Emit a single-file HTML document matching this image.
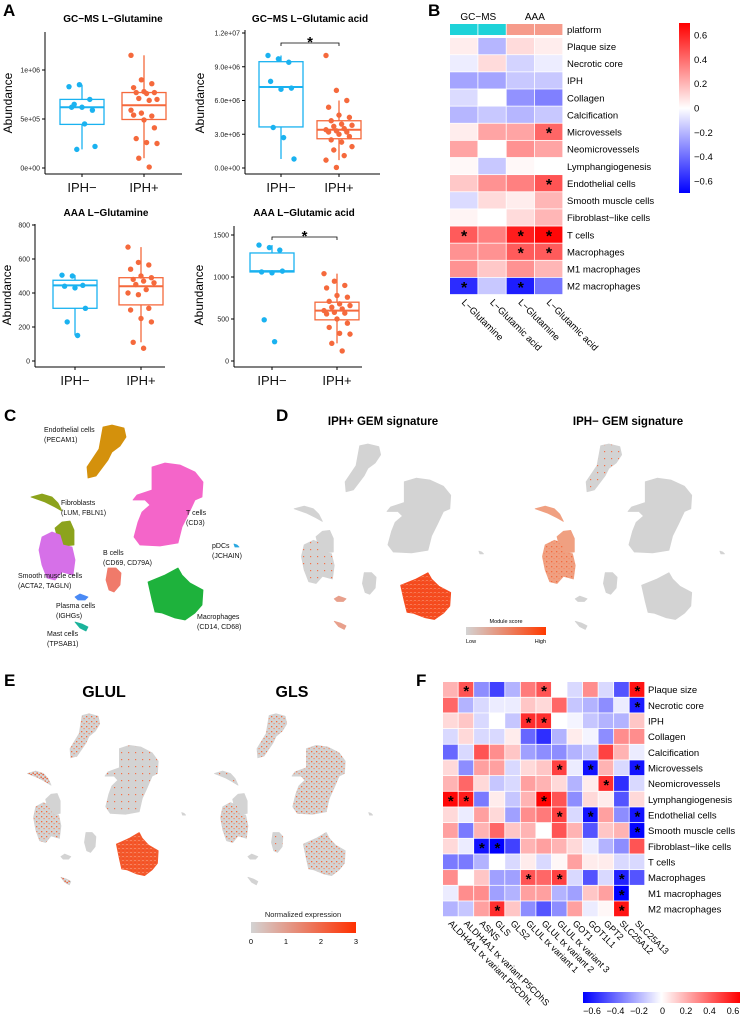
<!DOCTYPE html>
<html><head><meta charset="utf-8">
<style>
html,body{margin:0;padding:0;background:#fff;}
svg{display:block;font-family:"Liberation Sans",Arial,sans-serif;}
</style></head>
<body>
<svg id="fig" width="744" height="1018" viewBox="0 0 744 1018" xmlns="http://www.w3.org/2000/svg">
<defs>
<pattern id="spkA" width="5" height="5" patternUnits="userSpaceOnUse"><rect x="1" y="1" width="1.3" height="1.3" fill="#f36a3e"/><rect x="3.5" y="3" width="1.2" height="1.2" fill="#f58a62"/></pattern>
<pattern id="spkB" width="4" height="4" patternUnits="userSpaceOnUse"><rect x="0.5" y="0.5" width="1.4" height="1.4" fill="#f0602e"/><rect x="2.5" y="2" width="1.3" height="1.3" fill="#f34a20"/><rect x="2.5" y="0" width="1" height="1" fill="#fff" opacity="0.5"/></pattern>
<pattern id="spkC" width="7" height="7" patternUnits="userSpaceOnUse"><rect x="2" y="3" width="1.2" height="1.2" fill="#f37048"/></pattern>
<linearGradient id="gradB" x1="0" y1="1" x2="0" y2="0"><stop offset="0" stop-color="#0000ff"/><stop offset="0.5" stop-color="#ffffff"/><stop offset="1" stop-color="#ff0000"/></linearGradient>
<linearGradient id="gradF" x1="0" y1="0" x2="1" y2="0"><stop offset="0" stop-color="#0000ff"/><stop offset="0.5" stop-color="#ffffff"/><stop offset="1" stop-color="#ff0000"/></linearGradient>
<linearGradient id="gradMod" x1="0" y1="0" x2="1" y2="0"><stop offset="0" stop-color="#d3d3d3"/><stop offset="1" stop-color="#ff3a00"/></linearGradient>
<linearGradient id="gradExp" x1="0" y1="0" x2="1" y2="0"><stop offset="0" stop-color="#d3d3d3"/><stop offset="1" stop-color="#ff3000"/></linearGradient>
</defs>
<g id="root"></g>
</svg>
<script>
// ---------- Panel A data ----------
const a1Neg=[8.3e5,8.5e5,7.0e5,6.2e5,6.2e5,5.9e5,6.5e5,4.5e5,2.2e5,1.9e5];
const a1Pos=[11.5e5,9.0e5,8.6e5,8.2e5,7.8e5,7.7e5,7.7e5,7.6e5,7.0e5,7.1e5,6.9e5,5.9e5,5.6e5,5.3e5,5.4e5,4.9e5,4.1e5,3.0e5,2.6e5,2.5e5,1.0e5,0.1e5];
const a1NegBox=[1.9e5,4.45e5,6.2e5,7.0e5,8.5e5];
const a1PosBox=[1.0e5,4.95e5,6.4e5,7.7e5,11.5e5];
const a2Neg=[10.0e6,9.7e6,9.4e6,7.7e6,7.0e6,7.1e6,3.6e6,2.7e6,0.8e6];
const a2Pos=[10.0e6,6.9e6,6.0e6,5.4e6,4.7e6,4.5e6,4.2e6,3.9e6,3.8e6,3.7e6,3.5e6,3.4e6,3.3e6,3.2e6,3.2e6,3.0e6,2.8e6,2.5e6,2.3e6,1.9e6,1.6e6,1.1e6,0.7e6,0.05e6];
const a2NegBox=[0.8e6,3.65e6,7.2e6,9.45e6,10.0e6];
const a2PosBox=[0.7e6,2.6e6,3.4e6,4.2e6,6.0e6];
const a3Neg=[505,500,445,440,430,310,230,150];
const a3Pos=[670,580,565,540,500,490,480,470,460,450,420,400,390,310,300,250,230,110,75];
const a3NegBox=[150,310,445,475,505];
const a3PosBox=[110,330,440,490,670];
const a4Neg=[1380,1350,1320,1060,1050,1070,490,230];
const a4Pos=[1040,950,900,870,780,760,710,680,660,640,620,600,580,570,560,500,450,400,330,320,210,120];
const a4NegBox=[1060,1060,1070,1286,1380];
const a4PosBox=[210,490,600,700,1040];
const a1Ticks=[0,5e5,1e6], a1TickLabels=["0e+00","5e+05","1e+06"];
const a2Ticks=[0,3e6,6e6,9e6,1.2e7], a2TickLabels=["0.0e+00","3.0e+06","6.0e+06","9.0e+06","1.2e+07"];
const a3Ticks=[0,200,400,600,800], a3TickLabels=["0","200","400","600","800"];
const a4Ticks=[0,500,1000,1500], a4TickLabels=["0","500","1000","1500"];
const groupLabels=["IPH\u2212","IPH+"];

// ---------- Panel B data ----------
const bRows=["Plaque size","Necrotic core","IPH","Collagen","Calcification","Microvessels","Neomicrovessels","Lymphangiogenesis","Endothelial cells","Smooth muscle cells","Fibroblast\u2212like cells","T cells","Macrophages","M1 macrophages","M2 macrophages"];
const bCols=["L\u2212Glutamine","L\u2212Glutamic acid","L\u2212Glutamine","L\u2212Glutamic acid"];
const bVals=[
[0.05,-0.2,0.1,0.05],[-0.05,0.1,-0.12,-0.05],[-0.25,-0.25,-0.15,-0.15],[-0.1,0,-0.3,-0.35],[-0.2,-0.15,-0.2,-0.15],
[0.05,0.25,0.25,0.42],[0.25,0,0.3,0.25],[0.02,-0.15,0.02,0],[0.15,0.3,0.35,0.47],[-0.1,0.1,0.05,0.2],
[0.03,0,0.1,0.2],[0.45,0.35,0.62,0.68],[0.3,0.3,0.45,0.45],[0.3,0.15,0.3,0.2],[-0.58,-0.15,-0.62,-0.38]];
const bSig=[[0,0,0,0],[0,0,0,0],[0,0,0,0],[0,0,0,0],[0,0,0,0],[0,0,0,1],[0,0,0,0],[0,0,0,0],[0,0,0,1],[0,0,0,0],[0,0,0,0],[1,0,1,1],[0,0,1,1],[0,0,0,0],[1,0,1,0]];
const bTicks=[0.6,0.4,0.2,0,-0.2,-0.4,-0.6], bTickLabels=["0.6","0.4","0.2","0","\u22120.2","\u22120.4","\u22120.6"];

// ---------- Panel F data ----------
const fRows=["Plaque size","Necrotic core","IPH","Collagen","Calcification","Microvessels","Neomicrovessels","Lymphangiogenesis","Endothelial cells","Smooth muscle cells","Fibroblast\u2212like cells","T cells","Macrophages","M1 macrophages","M2 macrophages"];
const fCols=["ALDH4A1 tx variant P5CDhL","ALDH4A1 tx variant P5CDhS","ASNS","GLS","GLS2","GLUL tx variant 1","GLUL tx variant 2","GLUL tx variant 3","GOT1","GOT1L1","GPT2","SLC25A12","SLC25A13"];
const fVals=[
[0.2,0.45,-0.3,-0.5,-0.2,0.35,0.45,0,-0.1,0.3,-0.1,-0.45,0.62],
[0.4,-0.2,-0.1,-0.05,-0.05,0.15,0.1,0.4,-0.15,-0.2,-0.3,-0.05,-0.6],
[0.1,0.15,-0.1,0,-0.15,0.55,0.55,0,-0.03,-0.15,-0.2,-0.2,0.15],
[-0.1,0.1,-0.1,-0.1,0.05,-0.4,-0.55,-0.2,0.05,-0.03,-0.3,0.3,0.3],
[-0.4,-0.1,0.45,0.3,0.15,-0.25,-0.3,-0.3,-0.2,-0.15,0.5,0.2,-0.05],
[0.1,-0.3,0.25,0.25,-0.1,0.1,0.15,0.5,-0.05,-0.62,0.2,-0.1,-0.62],
[0.2,0.4,0.1,-0.15,-0.1,0.25,0.2,0.1,-0.2,0.05,0.55,-0.55,-0.1],
[0.65,0.6,-0.35,0.05,-0.15,0.2,0.66,0.45,-0.3,0.1,0.05,-0.45,0.1],
[0.1,-0.05,0.25,0.1,-0.25,0.3,0.35,0.5,-0.1,-0.62,0.25,-0.3,-0.62],
[0.25,-0.35,0.2,0.4,0.15,0.2,0,0.45,0.2,-0.45,0.15,0.2,-0.66],
[0.1,-0.05,-0.62,-0.7,-0.5,0.2,0.25,0.2,0.1,-0.05,-0.2,-0.3,0.45],
[-0.35,-0.35,-0.2,0,-0.1,0.05,-0.1,0.02,0.25,0.05,0.05,-0.1,-0.1],
[0.3,0,0.15,-0.25,-0.25,0.45,0.4,0.5,-0.1,-0.45,-0.1,-0.58,-0.45],
[-0.05,0.3,0.3,-0.25,-0.2,0.25,0.25,-0.2,-0.25,0.15,0.25,-0.7,0],
[-0.2,-0.15,0.25,0.55,0.15,-0.3,-0.45,-0.3,0.25,-0.05,0.02,0.62,0]];
const fSig=[
[0,1,0,0,0,0,1,0,0,0,0,0,1],[0,0,0,0,0,0,0,0,0,0,0,0,1],[0,0,0,0,0,1,1,0,0,0,0,0,0],[0,0,0,0,0,0,0,0,0,0,0,0,0],[0,0,0,0,0,0,0,0,0,0,0,0,0],
[0,0,0,0,0,0,0,1,0,1,0,0,1],[0,0,0,0,0,0,0,0,0,0,1,0,0],[1,1,0,0,0,0,1,0,0,0,0,0,0],[0,0,0,0,0,0,0,1,0,1,0,0,1],[0,0,0,0,0,0,0,0,0,0,0,0,1],
[0,0,1,1,0,0,0,0,0,0,0,0,0],[0,0,0,0,0,0,0,0,0,0,0,0,0],[0,0,0,0,0,1,0,1,0,0,0,1,0],[0,0,0,0,0,0,0,0,0,0,0,1,0],[0,0,0,1,0,0,0,0,0,0,0,1,0]];
const fTicks=[-0.6,-0.4,-0.2,0,0.2,0.4,0.6], fTickLabels=["\u22120.6","\u22120.4","\u22120.2","0","0.2","0.4","0.6"];
const expTicks=[0,1,2,3], expTickLabels=["0","1","2","3"];

const NS="http://www.w3.org/2000/svg";
const root=document.getElementById('root');
function el(tag,attrs,parent){const e=document.createElementNS(NS,tag);for(const k in attrs)e.setAttribute(k,attrs[k]);(parent||root).appendChild(e);return e;}
function txt(s,attrs,parent){const e=el('text',attrs,parent);e.textContent=s;return e;}

// panel letters
[["A",3,16],["B",428,16],["C",4,421],["D",276,421],["E",4,686],["F",416,686]].forEach(p=>{
 const t=txt(p[0],{x:p[1],y:p[2],'font-size':17,'font-weight':'bold'});
 
 
});

// ---------- Boxplots ----------
const BLUE="#1ab2f0", ORG="#f5693c";
function boxPanel(cfg,negPts,posPts,negBox,posBox,ticks,tickLabels){
 const g=el('g',{});
 
 
 const yS=v=>cfg.y0-(v-0)*cfg.k;
 const t=txt(cfg.title,{x:cfg.tx,y:cfg.ty,'font-size':10,'font-weight':'bold','text-anchor':'middle'},g);
 
 
 el('line',{x1:cfg.ax,y1:cfg.top,x2:cfg.ax,y2:cfg.base,stroke:'#000','stroke-width':1},g);
 el('line',{x1:cfg.ax,y1:cfg.base,x2:cfg.right,y2:cfg.base,stroke:'#000','stroke-width':1},g);
 ticks.forEach((v,i)=>{
  el('line',{x1:cfg.ax-3,y1:yS(v),x2:cfg.ax,y2:yS(v),stroke:'#000'},g);
  const tl=txt(tickLabels[i],{x:cfg.ax-5,y:yS(v)+2.5,'font-size':7,'text-anchor':'end',fill:'#222'},g);
  
  
 });
 const yt=txt("Abundance",{x:0,y:0,'font-size':12,'text-anchor':'middle',transform:`translate(${cfg.yl},${cfg.ylc}) rotate(-90)`},g);
 
 
 [[cfg.g1,negBox,negPts,BLUE],[cfg.g2,posBox,posPts,ORG]].forEach((grp,gi)=>{
  const cx=grp[0],b=grp[1],col=grp[3];
  el('line',{x1:cfg.ax+0,y1:0,x2:0,y2:0},g).remove();
  el('line',{x1:cx,y1:cfg.base,x2:cx,y2:cfg.base+3,stroke:'#000'},g);
  const xl=txt(groupLabels[gi],{x:cx,y:cfg.base+18,'font-size':13,'text-anchor':'middle',fill:'#111'},g);
  
  
  el('line',{x1:cx,y1:yS(b[0]),x2:cx,y2:yS(b[1]),stroke:col,'stroke-width':1.3},g);
  el('line',{x1:cx,y1:yS(b[3]),x2:cx,y2:yS(b[4]),stroke:col,'stroke-width':1.3},g);
  const r=el('rect',{x:cx-22,y:yS(b[3]),width:44,height:yS(b[1])-yS(b[3]),fill:'#fff',stroke:col,'stroke-width':1.3},g);
  
  
  el('line',{x1:cx-22,y1:yS(b[2]),x2:cx+22,y2:yS(b[2]),stroke:col,'stroke-width':2},g);
  grp[2].forEach((v,i)=>{
   const jx=((i*37)%11-5)*2.6;
   const c=el('circle',{cx:cx+jx,cy:yS(v),r:2.7,fill:col},g);
   
   
  });
 });
 if(cfg.sig){
  const by=cfg.sig;
  el('path',{d:`M${cfg.g1},${by+3}V${by}H${cfg.g2}V${by+3}`,fill:'none',stroke:'#000','stroke-width':0.8},g);
  const s=txt("*",{x:(cfg.g1+cfg.g2)/2,y:by+4,'font-size':15,'font-weight':'bold','text-anchor':'middle'},g);
  
  
 }
}
boxPanel({name:'boxplot-gcms-glutamine',title:'GC\u2212MS L\u2212Glutamine',tx:113,ty:22,ax:45,top:32,base:174,right:182,y0:168,k:98/1e6,g1:82,g2:144,yl:12,ylc:103},a1Neg,a1Pos,a1NegBox,a1PosBox,a1Ticks,a1TickLabels);
boxPanel({name:'boxplot-gcms-glutamic-acid',title:'GC\u2212MS L\u2212Glutamic acid',tx:310,ty:22,ax:245,top:30,base:174,right:380,y0:168,k:135/1.2e7,g1:281,g2:339,yl:204,ylc:103,sig:43},a2Neg,a2Pos,a2NegBox,a2PosBox,a2Ticks,a2TickLabels);
boxPanel({name:'boxplot-aaa-glutamine',title:'AAA L\u2212Glutamine',tx:106,ty:216,ax:35,top:224,base:367,right:165,y0:361,k:34/200,g1:75,g2:141,yl:11,ylc:295},a3Neg,a3Pos,a3NegBox,a3PosBox,a3Ticks,a3TickLabels);
boxPanel({name:'boxplot-aaa-glutamic-acid',title:'AAA L\u2212Glutamic acid',tx:304,ty:216,ax:234,top:226,base:367,right:362,y0:361,k:42/500,g1:272,g2:337,yl:203,ylc:295,sig:237},a4Neg,a4Pos,a4NegBox,a4PosBox,a4Ticks,a4TickLabels);

// ---------- Heatmap color ----------
function hcol(v,m){let t=Math.max(-1,Math.min(1,v/m));
 if(t>=0){const c=Math.round(255*(1-t));return `rgb(255,${c},${c})`;}
 const c=Math.round(255*(1+t));return `rgb(${c},${c},255)`;}

// ---------- Panel B ----------
(function(){
 const g=el('g',{});
 
 
 const x0=450,cw=28.3,y0=38,rh=17.13;
 const platCols=["#1ed3d9","#1ed3d9","#f69b8b","#f69b8b"];
 platCols.forEach((c,j)=>{const r=el('rect',{x:x0+j*cw,y:24,width:cw-0.8,height:11,fill:c},g);
  
  });
 let t=txt('platform',{x:567,y:33,'font-size':9.5},g);
 
 
 t=txt('GC\u2212MS',{x:x0+cw,y:20,'font-size':10,'text-anchor':'middle'},g);
 
 
 t=txt('AAA',{x:x0+3*cw,y:20,'font-size':10,'text-anchor':'middle'},g);
 
 
 bRows.forEach((rn,i)=>{
  bCols.forEach((cn,j)=>{
   const r=el('rect',{x:x0+j*cw,y:y0+i*rh,width:cw-0.8,height:rh-0.8,fill:hcol(bVals[i][j],0.7)},g);
   
   
   if(bSig[i][j]){const s=txt('*',{x:x0+j*cw+cw/2,y:y0+i*rh+rh/2+6.5,'font-size':16,'font-weight':'bold','text-anchor':'middle'},g);
    
    }
  });
  const l=txt(rn,{x:567,y:y0+i*rh+rh/2+3.3,'font-size':9.5},g);
  
  
 });
 bCols.forEach((cn,j)=>{
  const l=txt(cn,{x:0,y:0,'font-size':9.5,transform:`translate(${x0+j*cw+cw/2-3},${y0+15*rh+8}) rotate(45)`},g);
  
  
 });
 const cb=el('rect',{x:679,y:23,width:11,height:170,fill:'url(#gradB)'},g);
 
 
 bTicks.forEach((v,i)=>{const y=108-v*(73/0.6);
  const l=txt(bTickLabels[i],{x:694,y:y+3.5,'font-size':9.5},g);
  
  });
})();

// ---------- Panel F ----------
(function(){
 const g=el('g',{});
 
 
 const x0=443,cw=15.55,y0=682,rh=15.67;
 fRows.forEach((rn,i)=>{
  fCols.forEach((cn,j)=>{
   const r=el('rect',{x:x0+j*cw,y:y0+i*rh,width:cw-0.8,height:rh-0.8,fill:hcol(fVals[i][j],0.67)},g);
   
   
   if(fSig[i][j]){const s=txt('*',{x:x0+j*cw+cw/2,y:y0+i*rh+rh/2+6.3,'font-size':15,'font-weight':'bold','text-anchor':'middle'},g);
    
    }
  });
  const l=txt(rn,{x:648,y:y0+i*rh+rh/2+3.3,'font-size':9.5},g);
  
  
 });
 fCols.forEach((cn,j)=>{
  const l=txt(cn,{x:0,y:0,'font-size':9,transform:`translate(${x0+j*cw+cw/2-3},${y0+15*rh+7}) rotate(45)`},g);
  
  
 });
 const cb=el('rect',{x:583,y:992,width:157,height:11,fill:'url(#gradF)'},g);
 
 
 fTicks.forEach((v,i)=>{const x=662.5+v*(70.5/0.6);
  const l=txt(fTickLabels[i],{x:x,y:1014,'font-size':9,'text-anchor':'middle'},g);
  
  });
})();

// ---------- UMAP shapes (panel C reference frame) ----------
const clusters={
 endo:[[103,427],[112,425],[124,428],[126,437],[120,446],[112,452],[108,460],[102,468],[96,476],[88,478],[87,467],[93,458],[99,449],[101,438]],
 fibTop:[[31,497],[42,494],[52,497],[58,503],[62,511],[55,507],[45,502]],
 fibLow:[[55,528],[62,522],[70,521],[74,530],[74,545],[65,546],[58,540]],
 smc:[[42,537],[52,532],[60,535],[63,545],[72,547],[75,560],[73,575],[62,572],[55,580],[47,578],[42,565],[39,550]],
 tcell:[[152,467],[165,463],[180,465],[195,472],[203,482],[202,497],[195,500],[188,515],[182,527],[178,543],[160,546],[140,545],[134,537],[138,522],[142,512],[150,505],[145,500],[133,500],[137,495],[152,490]],
 bcell:[[108,568],[116,568],[121,573],[120,585],[114,592],[109,590],[106,580]],
 macro:[[148,582],[165,575],[178,568],[182,575],[190,583],[203,590],[202,605],[195,613],[185,620],[175,618],[162,613],[155,612],[152,600]],
 plasma:[[75,597],[80,594],[88,597],[85,600],[78,600]],
 mast:[[75,622],[82,624],[88,627],[86,631],[80,628]],
 pdc:[[234,544],[237,545],[239,547],[235,547]]
};
function umap(name,tf,fills,over){
 const g=el('g',{});
 
 
 for(const k in clusters){
  const pts=clusters[k].map(p=>[tf.ox+(p[0]-tf.bx)*tf.sx,tf.oy+(p[1]-tf.by)*tf.sy].join(',')).join(' ');
  const p=el('polygon',{points:pts,fill:fills[k]||fills.def,stroke:fills[k]||fills.def,'stroke-width':0.8,'stroke-linejoin':'round'},g);
  
  
  if(over&&over[k]){el('polygon',{points:pts,fill:over[k]},g);}
 }
}
// C
umap('umap-cell-types',{ox:0,oy:0,bx:0,by:0,sx:1,sy:1},{endo:'#d4910c',fibTop:'#8ca31c',fibLow:'#8ca31c',smc:'#d670e8',tcell:'#f465c9',bcell:'#f07a6a',macro:'#1eb23c',plasma:'#4a8af5',mast:'#1bb39b',pdc:'#2aa7e0'});
const cLabels=[["Endothelial cells",44,432],["(PECAM1)",44,442],["Fibroblasts",61,505],["(LUM, FBLN1)",61,515],["T cells",186,515],["(CD3)",186,525],["pDCs",212,548],["(JCHAIN)",212,558],["B cells",103,555],["(CD69, CD79A)",103,565],["Smooth muscle cells",18,578],["(ACTA2, TAGLN)",18,588],["Plasma cells",56,608],["(IGHGs)",56,618],["Mast cells",47,636],["(TPSAB1)",47,646],["Macrophages",197,619],["(CD14, CD68)",197,629]];
cLabels.forEach(l=>{const t=txt(l[0],{x:l[1],y:l[2],'font-size':7,fill:'#111'});
 
 });
// D
const G='#d3d3d3';
umap('umap-iph-pos-signature',{ox:387,oy:480,bx:133,by:465,sx:0.91,sy:0.9},{def:G,macro:'#f64a1e',plasma:'#e8a08c',mast:'#e8a08c'},{macro:'url(#spkB)',smc:'url(#spkC)'});
umap('umap-iph-neg-signature',{ox:628,oy:480,bx:133,by:465,sx:0.91,sy:0.9},{def:G,smc:'#f0a081',fibTop:'#f0a081',fibLow:'#f0a081'},{smc:'url(#spkA)',endo:'url(#spkC)'});
[["IPH+ GEM signature",383],["IPH\u2212 GEM signature",628]].forEach(l=>{const t=txt(l[0],{x:l[1],y:425,'font-size':11.5,'font-weight':'bold','text-anchor':'middle'});
 
 });
let t=txt('Module score',{x:506,y:623,'font-size':5.5,'text-anchor':'middle'});


let r=el('rect',{x:466,y:627,width:80,height:8,fill:'url(#gradMod)'});


t=txt('Low',{x:466,y:643,'font-size':5.5});


t=txt('High',{x:546,y:643,'font-size':5.5,'text-anchor':'end'});


// E
umap('umap-glul',{ox:105,oy:747,bx:133,by:465,sx:0.76,sy:0.83},{def:G,macro:'#f4582c'},{endo:'url(#spkA)',fibTop:'url(#spkB)',smc:'url(#spkA)',tcell:'url(#spkC)',macro:'url(#spkB)',mast:'url(#spkB)'});
umap('umap-gls',{ox:292,oy:747,bx:133,by:465,sx:0.76,sy:0.83},{def:G},{endo:'url(#spkA)',smc:'url(#spkA)',tcell:'url(#spkA)',macro:'url(#spkA)',bcell:'url(#spkC)',fibTop:'url(#spkC)'});
[["GLUL",104],["GLS",292]].forEach(l=>{const t=txt(l[0],{x:l[1],y:697,'font-size':16,'font-weight':'bold','text-anchor':'middle'});
 
 });
t=txt('Normalized expression',{x:303,y:917,'font-size':7.5,'text-anchor':'middle',fill:'#222'});


r=el('rect',{x:251,y:922,width:105,height:11,fill:'url(#gradExp)'});


expTicks.forEach((v,i)=>{const x=251+v*35;
 const l=txt(expTickLabels[i],{x:x,y:944,'font-size':7.5,'text-anchor':'middle'});
 
 });
</script>
</body></html>
